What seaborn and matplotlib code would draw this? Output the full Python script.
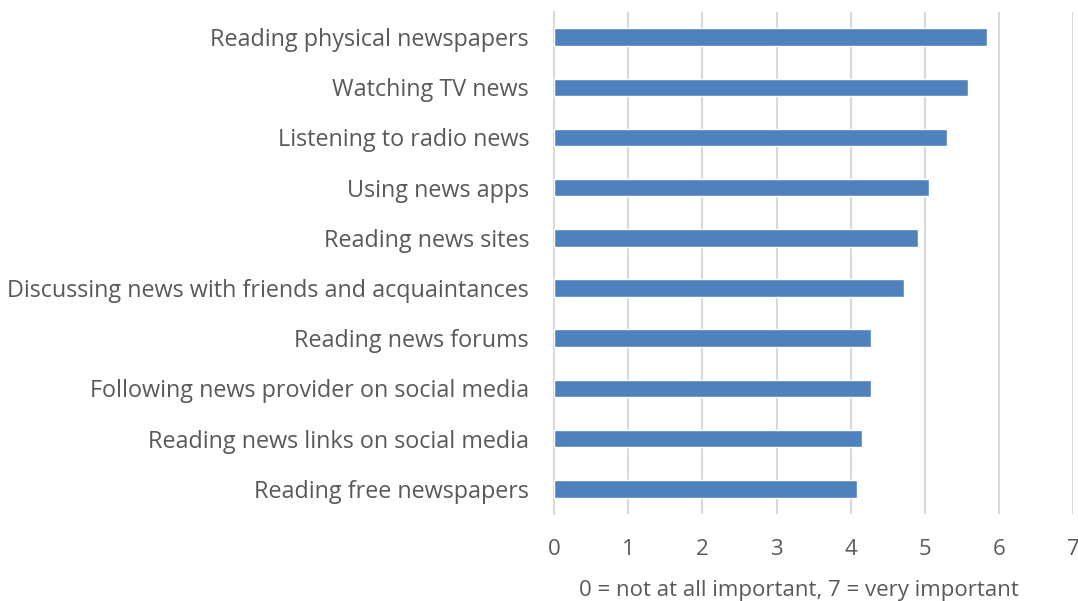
import matplotlib
matplotlib.use("Agg")
import matplotlib.pyplot as plt
import seaborn as sns
import pandas as pd

categories = [
    "Reading physical newspapers",
    "Watching TV news",
    "Listening to radio news",
    "Using news apps",
    "Reading news sites",
    "Discussing news with friends and acquaintances",
    "Reading news forums",
    "Following news provider on social media",
    "Reading news links on social media",
    "Reading free newspapers",
]
values = [5.84, 5.58, 5.30, 5.05, 4.91, 4.72, 4.27, 4.27, 4.15, 4.09]
x_ticks = [0, 1, 2, 3, 4, 5, 6, 7]
x_label = "0 = not at all important, 7 = very important"

sns.set_theme(style="white")
plt.rcParams['font.family'] = ['Open Sans', 'DejaVu Sans']

df = pd.DataFrame({"cat": categories, "val": values})

fig = plt.figure(figsize=(10.78, 6.01), dpi=100)
ax = fig.add_axes([0.514, 0.145, 0.9955 - 0.514, 0.98 - 0.145])

sns.barplot(data=df, x="val", y="cat", color="#4F81BD", width=0.35,
            saturation=1, ax=ax, zorder=3)

ax.set_xlim(0, 7)
ax.set_xticks(x_ticks)
ax.xaxis.grid(True, color="#D9D9D9", linewidth=1.5, zorder=0)
ax.yaxis.grid(False)
ax.set_axisbelow(True)
for s in ["top", "right", "bottom"]:
    ax.spines[s].set_visible(False)
ax.spines["left"].set_color("#D9D9D9")
ax.spines["left"].set_linewidth(1.5)

txt = "#595959"
ax.tick_params(axis="y", length=0, pad=18, labelsize=16.8, labelcolor=txt)
ax.tick_params(axis="x", length=0, pad=18, labelsize=16, labelcolor=txt)
ax.set_ylabel("")
ax.set_xlabel(x_label, fontsize=16, color=txt)
ax.xaxis.set_label_coords(0.472, -0.131)

fig.savefig("out.png", dpi=100)
